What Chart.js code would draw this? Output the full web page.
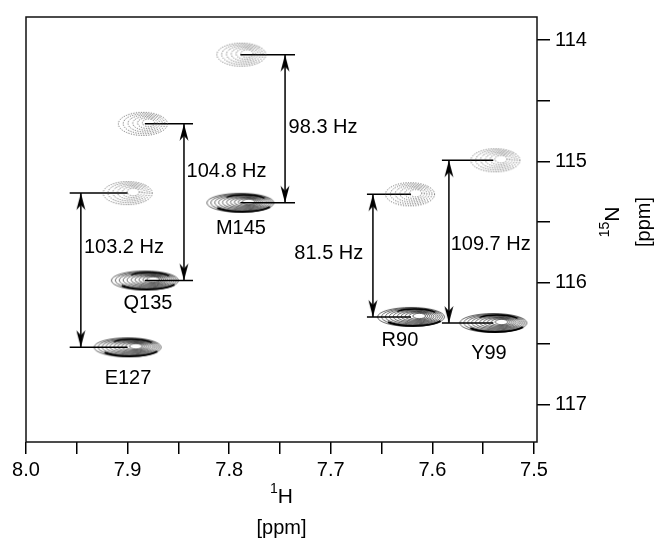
<!DOCTYPE html>
<html>
<head>
<meta charset="utf-8">
<script src="https://cdn.jsdelivr.net/npm/chart.js@4.4.0/dist/chart.umd.min.js"></script>
<style>
  html, body { margin: 0; padding: 0; background: #fff; }
  #wrap { width: 660px; height: 548px; }
</style>
</head>
<body>
<div id="wrap"><canvas id="myChart"></canvas></div>
<script>
// Datos de los picos (ppm)
const residues  = ["E127", "Q135", "M145", "R90", "Y99"];
const hLower    = [7.900, 7.883, 7.789, 7.621, 7.540];
const nLower    = [116.53, 115.98, 115.34, 116.28, 116.33];
const hUpper    = [7.900, 7.885, 7.788, 7.622, 7.538];
const nUpper    = [115.26, 114.69, 114.12, 115.27, 114.99];
const couplings = ["103.2 Hz", "104.8 Hz", "98.3 Hz", "81.5 Hz", "109.7 Hz"];
const arrowH    = [7.946, 7.8445, 7.745, 7.6585, 7.5837];
const lineFrom  = [7.957, 7.883, 7.789, 7.6644, 7.5906];
const lineTo    = [7.900, 7.8356, 7.7352, 7.621, 7.540];

const xTicks = [8.0, 7.95, 7.9, 7.85, 7.8, 7.75, 7.7, 7.65, 7.6, 7.55, 7.5];
const xTickLabels = ["8.0", "", "7.9", "", "7.8", "", "7.7", "", "7.6", "", "7.5"];
const yTicks = [114, 114.5, 115, 115.5, 116, 116.5, 117];
const yTickLabels = ["114", "", "115", "", "116", "", "117"];

// Donde van los textos (ppm)
const labelPos = [[7.8996, 116.785], [7.8799, 116.17], [7.7884, 115.55], [7.6319, 116.47], [7.5443, 116.58]];
const hzPos = [[7.9430, 115.71, "left"], [7.8420, 115.08, "left"], [7.7415, 114.72, "left"],
               [7.6680, 115.76, "right"], [7.5820, 115.68, "left"]];

const FONT = '"Liberation Sans", Arial, Helvetica, sans-serif';
Chart.defaults.font.family = FONT;
Chart.defaults.color = '#000';

// Imagenes de los contornos
function contourImage(w, h, rings, dotted) {
  const c = document.createElement('canvas');
  c.width = w; c.height = h;
  const g = c.getContext('2d');
  g.strokeStyle = dotted ? '#4a4a4a' : '#000';
  g.lineWidth = dotted ? 1 : 0.6;
  if (dotted) g.setLineDash([1, 1.5]);
  for (let i = 0; i < rings; i++) {
    const t = i / rings;
    const rx = (w / 2 - 1.5) * (1 - 0.9 * t);
    const ry = (h / 2 - 1.5) * (1 - 0.8 * t);
    const cx = w / 2 + w * 0.13 * t;
    const cy = h / 2 - h * 0.05 * t;
    g.beginPath();
    g.ellipse(cx, cy, rx, ry, 0, 0, Math.PI * 2);
    g.stroke();
  }
  if (!dotted) {
    g.lineWidth = 2;
    g.beginPath();
    g.ellipse(w / 2 + 2, h / 2, w / 2 - 4, h / 2 - 2, 0, 0.15 * Math.PI, 0.8 * Math.PI);
    g.stroke();
    g.lineWidth = 1.4;
    g.beginPath();
    g.ellipse(w / 2 + 4, h / 2, w / 2 - 10, h / 2 - 3, 0, 1.25 * Math.PI, 1.8 * Math.PI);
    g.stroke();
  }
  return c;
}

function arrowImage() {
  const c = document.createElement('canvas');
  c.width = 10; c.height = 40;
  const g = c.getContext('2d');
  g.fillStyle = '#000';
  g.beginPath();
  g.moveTo(5, 20);
  g.lineTo(9.5, 37);
  g.lineTo(5, 32);
  g.lineTo(0.5, 37);
  g.closePath();
  g.fill();
  return c;
}

const solidImg = contourImage(70, 22, 10, false);
const dottedImg = contourImage(52, 26, 6, true);
const arrowImg = arrowImage();

const datasets = [];
datasets.push({
  data: hLower.map((x, i) => ({ x: x, y: nLower[i] })),
  pointStyle: solidImg, pointRadius: 5, showLine: false
});
datasets.push({
  data: hUpper.map((x, i) => ({ x: x, y: nUpper[i] })),
  pointStyle: dottedImg, pointRadius: 5, showLine: false
});
residues.forEach((r, i) => {
  [nLower[i], nUpper[i]].forEach(n => {
    datasets.push({
      data: [{ x: lineFrom[i], y: n }, { x: lineTo[i], y: n }],
      showLine: true, borderColor: '#000', borderWidth: 1.5, pointRadius: 0
    });
  });
  datasets.push({
    data: [{ x: arrowH[i], y: nUpper[i] }, { x: arrowH[i], y: nLower[i] }],
    showLine: true, borderColor: '#000', borderWidth: 1.5,
    pointStyle: arrowImg, pointRadius: 5, pointRotation: [0, 180]
  });
});

function supText(g, sup, main, x, y, size) {
  g.font = Math.round(size * 0.65) + 'px ' + FONT;
  const ws = g.measureText(sup).width;
  g.font = size + 'px ' + FONT;
  const wm = g.measureText(main).width;
  const x0 = x - (ws + wm) / 2;
  g.textAlign = 'left';
  g.textBaseline = 'middle';
  g.font = Math.round(size * 0.65) + 'px ' + FONT;
  g.fillText(sup, x0, y - size * 0.38);
  g.font = size + 'px ' + FONT;
  g.fillText(main, x0 + ws, y);
}

const marcos = {
  id: 'marcos',
  beforeDatasetsDraw(chart) {
    const a = chart.chartArea, g = chart.ctx;
    g.save();
    g.strokeStyle = '#111';
    g.lineWidth = 1.5;
    g.strokeRect(a.left, a.top, a.right - a.left, a.bottom - a.top);
    g.restore();
  },
  afterDatasetsDraw(chart) {
    const g = chart.ctx, xs = chart.scales.x, ys = chart.scales.y;
    g.save();
    g.fillStyle = '#000';
    g.font = '20px ' + FONT;
    g.textBaseline = 'middle';
    residues.forEach((r, i) => {
      g.textAlign = 'center';
      g.fillText(r, xs.getPixelForValue(labelPos[i][0]), ys.getPixelForValue(labelPos[i][1]));
      g.textAlign = hzPos[i][2];
      g.fillText(couplings[i], xs.getPixelForValue(hzPos[i][0]), ys.getPixelForValue(hzPos[i][1]));
    });
    // titulos de los ejes
    const a = chart.chartArea;
    const cx = (a.left + a.right) / 2;
    supText(g, '1', 'H', cx, 497, 21);
    g.textAlign = 'center';
    g.font = '20px ' + FONT;
    g.fillText('[ppm]', cx, 528);
    g.translate(628, 222);
    g.rotate(-Math.PI / 2);
    supText(g, '15', 'N', 0, -15, 21);
    g.textAlign = 'center';
    g.font = '20px ' + FONT;
    g.fillText('[ppm]', 0, 16);
    g.restore();
  }
};

let ctx = document.getElementById('myChart');
let myChart = new Chart(ctx, {
  type: 'scatter',
  data: { datasets: datasets },
  options: {
    responsive: true,
    maintainAspectRatio: false,
    animation: false,
    layout: { padding: { left: 26, top: 16, right: 0, bottom: 0 } },
    plugins: { legend: { display: false }, tooltip: { enabled: false } },
    scales: {
      x: {
        type: 'linear', reverse: true, min: 7.497, max: 8.0,
        afterBuildTicks: s => { s.ticks = xTicks.map(v => ({ value: v })); },
        afterFit: s => { s.height = 106; },
        ticks: {
          callback: (v, i) => xTickLabels[i],
          font: { size: 20 }, color: '#000', autoSkip: false, maxRotation: 0, padding: 4
        },
        grid: { drawOnChartArea: false, drawTicks: true, tickLength: 12, color: '#000', lineWidth: 1.5 },
        border: { display: false }
      },
      y: {
        type: 'linear', position: 'right', reverse: true, min: 113.81, max: 117.31,
        afterBuildTicks: s => { s.ticks = yTicks.map(v => ({ value: v })); },
        afterFit: s => { s.width = 123; },
        ticks: {
          callback: (v, i) => yTickLabels[i],
          font: { size: 20 }, color: '#000', autoSkip: false, padding: 5
        },
        grid: { drawOnChartArea: false, drawTicks: true, tickLength: 13, color: '#000', lineWidth: 1.5 },
        border: { display: false }
      }
    }
  },
  plugins: [marcos]
});
</script>
</body>
</html>
